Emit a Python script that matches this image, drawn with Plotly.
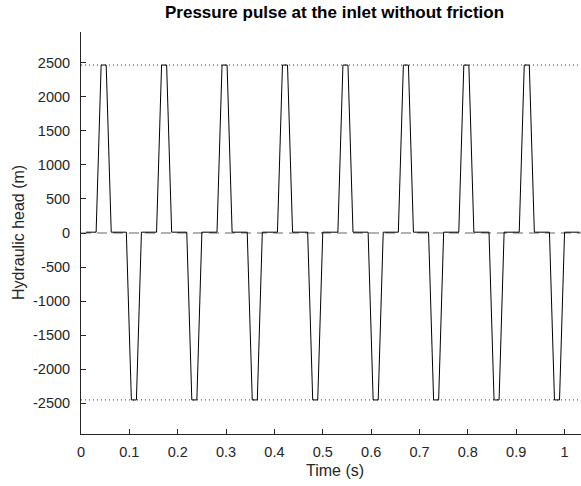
import plotly.graph_objects as go

# Inlet head samples (m), uniform time step, no friction losses
sample_step_s = 1 / 96
head_m = [
    12, 12, 12, 2465, 2465, 12, 12, 12, 12, -2450, -2450, 12,
    12, 12, 12, 2465, 2465, 12, 12, 12, 12, -2450, -2450, 12,
    12, 12, 12, 2465, 2465, 12, 12, 12, 12, -2450, -2450, 12,
    12, 12, 12, 2465, 2465, 12, 12, 12, 12, -2450, -2450, 12,
    12, 12, 12, 2465, 2465, 12, 12, 12, 12, -2450, -2450, 12,
    12, 12, 12, 2465, 2465, 12, 12, 12, 12, -2450, -2450, 12,
    12, 12, 12, 2465, 2465, 12, 12, 12, 12, -2450, -2450, 12,
    12, 12, 12, 2465, 2465, 12, 12, 12, 12, -2450, -2450, 12,
    12, 12, 12,
]
time_s = [(i + 1) * sample_step_s for i in range(len(head_m))]

# Reference levels: Joukowsky surge bounds and static level
surge_max_m = 2465
surge_min_m = -2450
static_m = 0

x_range = [0, 1.034]
y_range = [-2950, 2950]
x_ticks = [0, 0.1, 0.2, 0.3, 0.4, 0.5, 0.6, 0.7, 0.8, 0.9, 1]
x_tick_text = ["0", "0.1", "0.2", "0.3", "0.4", "0.5", "0.6", "0.7", "0.8", "0.9", "1"]
y_ticks = [-2500, -2000, -1500, -1000, -500, 0, 500, 1000, 1500, 2000, 2500]
y_tick_text = ["-2500", "-2000", "-1500", "-1000", "-500", "0",
               "500", "1000", "1500", "2000", "2500"]

axis_color = "#262626"
font_family = "Liberation Sans, Arial, sans-serif"

fig = go.Figure()

fig.add_trace(go.Scatter(
    x=x_range, y=[static_m, static_m], mode="lines",
    line=dict(color="#999999", width=1.6, dash="10px,6px"),
    hoverinfo="skip", showlegend=False,
))
for level in (surge_max_m, surge_min_m):
    fig.add_trace(go.Scatter(
        x=x_range, y=[level, level], mode="lines",
        line=dict(color="#333333", width=1, dash="1px,3px"),
        hoverinfo="skip", showlegend=False,
    ))

fig.add_trace(go.Scatter(
    x=time_s, y=head_m, mode="lines",
    line=dict(color="black", width=1),
    showlegend=False,
))

fig.update_layout(
    width=581, height=486,
    margin=dict(l=81, r=0, t=32, b=52),
    paper_bgcolor="white", plot_bgcolor="white",
    font=dict(family=font_family, color=axis_color, size=14),
    annotations=[
        dict(text="<b>Pressure pulse at the inlet without friction</b>",
             xref="paper", yref="paper", x=0.507, y=1, yshift=20,
             xanchor="center", yanchor="middle", showarrow=False,
             font=dict(size=17, color="black", family=font_family)),
        dict(text="Time (s)", xref="paper", yref="paper", x=0.507, y=0,
             yshift=-36, xanchor="center", yanchor="middle", showarrow=False,
             font=dict(size=16, color=axis_color, family=font_family)),
        dict(text="Hydraulic head (m)", xref="paper", yref="paper", x=0, y=0.5,
             xshift=-63, textangle=-90, xanchor="center", yanchor="middle",
             showarrow=False,
             font=dict(size=16, color=axis_color, family=font_family)),
    ],
)

fig.update_xaxes(
    range=x_range, tickvals=x_ticks, ticktext=x_tick_text,
    showline=True, linecolor=axis_color, linewidth=1, mirror=False,
    ticks="inside", ticklen=5, tickcolor=axis_color, tickwidth=1,
    showgrid=False, zeroline=False, ticklabelstandoff=5,
    tickfont=dict(size=14.5, color=axis_color),
)
fig.update_yaxes(
    range=y_range, tickvals=y_ticks, ticktext=y_tick_text,
    showline=True, linecolor=axis_color, linewidth=1, mirror=False,
    ticks="inside", ticklen=5, tickcolor=axis_color, tickwidth=1,
    showgrid=False, zeroline=False, ticklabelstandoff=7,
    tickfont=dict(size=14.5, color=axis_color),
)

fig.write_html("out.html")
